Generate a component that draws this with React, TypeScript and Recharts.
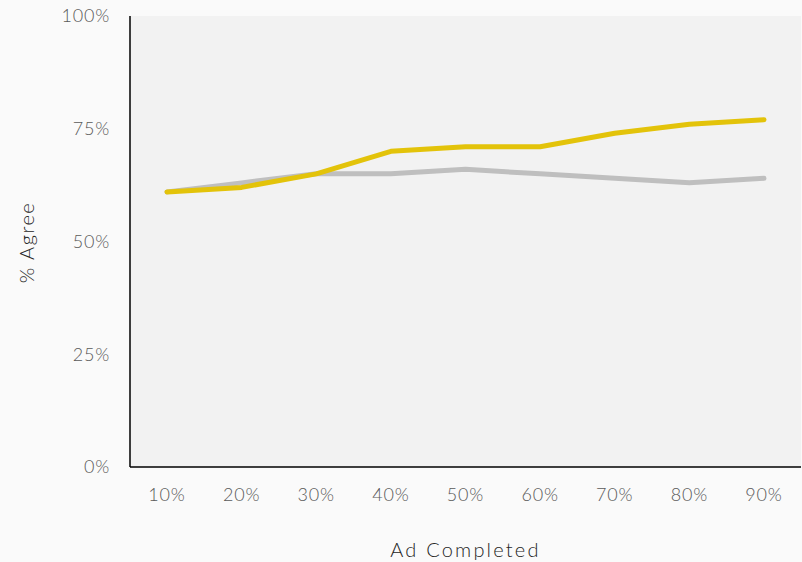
import React from "react";
import { ComposedChart, Line, XAxis, YAxis, CartesianGrid } from "recharts";

const categories = ["10%", "20%", "30%", "40%", "50%", "60%", "70%", "80%", "90%"];
const grayValues = [61, 63, 65, 65, 66, 65, 64, 63, 64];
const yellowValues = [61, 62, 65, 70, 71, 71, 74, 76, 77];
const yTicks = [0, 25, 50, 75, 100];

const data = categories.map((c, i) => ({ cat: c, gray: grayValues[i], yellow: yellowValues[i] }));

const FONT = "Lato, 'Open Sans', sans-serif";

export default function App() {
  return (
    <div style={{ width: 802, height: 562, background: "#fafafa" }}>
      <style>{`body{margin:0;}`}</style>
      <ComposedChart
        width={802}
        height={562}
        data={data}
        margin={{ top: 16, right: 1, bottom: 0, left: 0 }}
      >
        <CartesianGrid horizontal={false} vertical={false} fill="#f2f2f2" />
        <XAxis
          dataKey="cat"
          height={95}
          padding={{ left: 37, right: 37 }}
          axisLine={{ stroke: "#000", strokeWidth: 1.5 }}
          tickLine={false}
          tickMargin={15}
          tick={{ fill: "#595959", fontSize: 18, fontFamily: FONT, fontWeight: 300, letterSpacing: 0.8 }}
          label={{
            content: (p: any) => {
              const vb = p.viewBox;
              return (
                <text
                  x={vb.x + vb.width / 2}
                  y={vb.y + vb.height - 5}
                  textAnchor="middle"
                  fill="#262626"
                  fontSize={20}
                  fontWeight={300}
                  letterSpacing={2.2}
                  fontFamily={FONT}
                >
                  Ad Completed
                </text>
              );
            },
          }}
        />
        <YAxis
          width={130}
          domain={[0, 100]}
          ticks={yTicks}
          tickFormatter={(v) => `${v}%`}
          axisLine={{ stroke: "#000", strokeWidth: 1.5 }}
          tickLine={false}
          tickMargin={14}
          tick={{ fill: "#595959", fontSize: 18, fontFamily: FONT, fontWeight: 300, letterSpacing: 0.8 }}
          label={{
            content: (p: any) => {
              const vb = p.viewBox;
              const cx = 26;
              const cy = vb.y + vb.height / 2 + 1;
              return (
                <text
                  x={cx}
                  y={cy}
                  transform={`rotate(-90 ${cx} ${cy})`}
                  textAnchor="middle"
                  dominantBaseline="central"
                  fill="#262626"
                  fontSize={20}
                  fontWeight={300}
                  letterSpacing={1.5}
                  fontFamily={FONT}
                >
                  % Agree
                </text>
              );
            },
          }}
        />
        <Line
          type="linear"
          dataKey="gray"
          stroke="#bfbfbf"
          strokeWidth={5}
          strokeLinecap="round"
          strokeLinejoin="round"
          dot={false}
          activeDot={false}
          isAnimationActive={false}
        />
        <Line
          type="linear"
          dataKey="yellow"
          stroke="#e3c30a"
          strokeWidth={5}
          strokeLinecap="round"
          strokeLinejoin="round"
          dot={false}
          activeDot={false}
          isAnimationActive={false}
        />
      </ComposedChart>
    </div>
  );
}
